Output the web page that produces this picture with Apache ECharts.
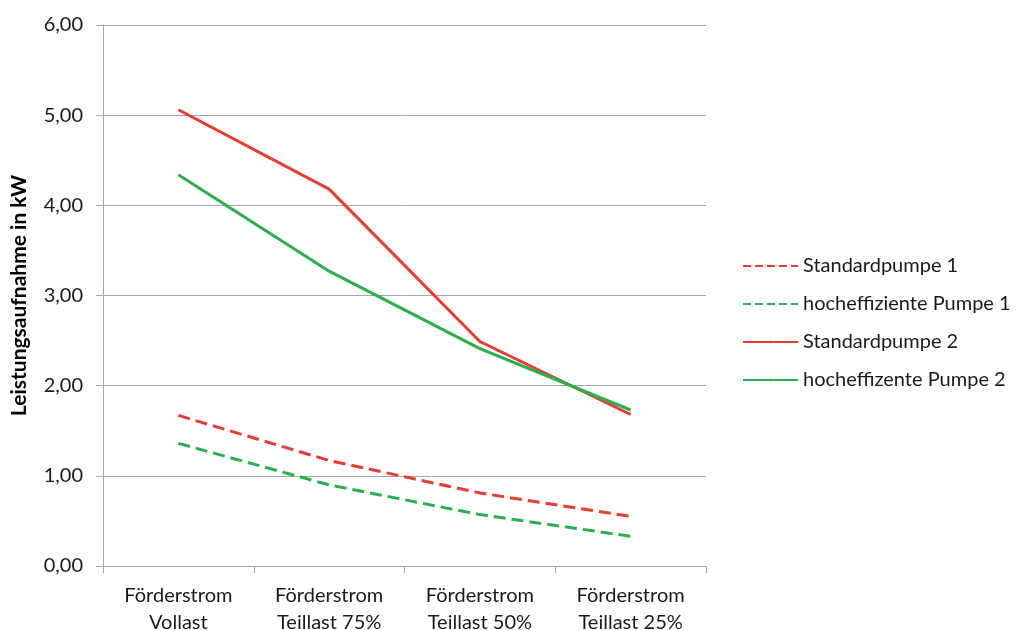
<!DOCTYPE html>
<html>
<head>
<meta charset="utf-8">
<script src="https://cdn.jsdelivr.net/npm/echarts@6/dist/echarts.min.js"></script>
<style>html,body{margin:0;padding:0;background:#fff}#chart{width:1019px;height:630px}</style>
</head>
<body>
<div id="chart"></div>
<script>
var kategorien=["Förderstrom\nVollast","Förderstrom\nTeillast 75%","Förderstrom\nTeillast 50%","Förderstrom\nTeillast 25%"]
var standard1=[1.67,1.17,0.81,0.55]
var hocheff1=[1.36,0.90,0.57,0.33]
var standard2=[5.06,4.18,2.49,1.68]
var hocheff2=[4.34,3.27,2.41,1.73]
var rot="#ea3b32"
var gruen="#27b14d"

var mychart=echarts.init(document.getElementById('chart'))
function linie(name,data,farbe,typ){
	return {
		name:name,
		type:'line',
		data:data,
		symbol:'none',
		color:farbe,
		lineStyle:{color:farbe,width:3,type:typ},
		itemStyle:{color:farbe},
		animation:false
	}
}
var option={
	textStyle:{fontFamily:'Lato'},
	grid:{left:103,right:313,top:25,bottom:64,outerBoundsMode:'none'},
	legend:{
		orient:'vertical',
		left:737,
		top:249,
		itemWidth:55,
		itemHeight:3,
		itemGap:14,
		textStyle:{fontSize:20,color:'#1a1a1a',fontFamily:'Lato',lineHeight:24},
		data:["Standardpumpe 1","hocheffiziente Pumpe 1","Standardpumpe 2","hocheffizente Pumpe 2"]
	},
	xAxis:{
		type:'category',
		data:kategorien,
		boundaryGap:true,
		axisLine:{lineStyle:{color:'#a6a6a6',width:1}},
		axisTick:{show:true,length:7,lineStyle:{color:'#a6a6a6'}},
		axisLabel:{fontSize:20,color:'#1a1a1a',margin:16,lineHeight:27,interval:0}
	},
	yAxis:{
		type:'value',
		min:0,max:6,interval:1,
		name:'Leistungsaufnahme in kW',
		nameLocation:'middle',
		nameGap:73,
		nameTextStyle:{fontSize:21,fontWeight:'bold',color:'#000'},
		axisLine:{show:true,lineStyle:{color:'#a6a6a6',width:1}},
		axisTick:{show:true,length:7,lineStyle:{color:'#a6a6a6'}},
		axisLabel:{fontSize:20,color:'#1a1a1a',margin:20,formatter:function(v){return v.toFixed(2).replace('.',',')}},
		splitLine:{lineStyle:{color:'#a6a6a6',width:1}}
	},
	series:[
		linie("Standardpumpe 1",standard1,rot,'dashed'),
		linie("hocheffiziente Pumpe 1",hocheff1,gruen,'dashed'),
		linie("Standardpumpe 2",standard2,rot,'solid'),
		linie("hocheffizente Pumpe 2",hocheff2,gruen,'solid')
	]
}
mychart.setOption(option)
</script>
</body>
</html>
